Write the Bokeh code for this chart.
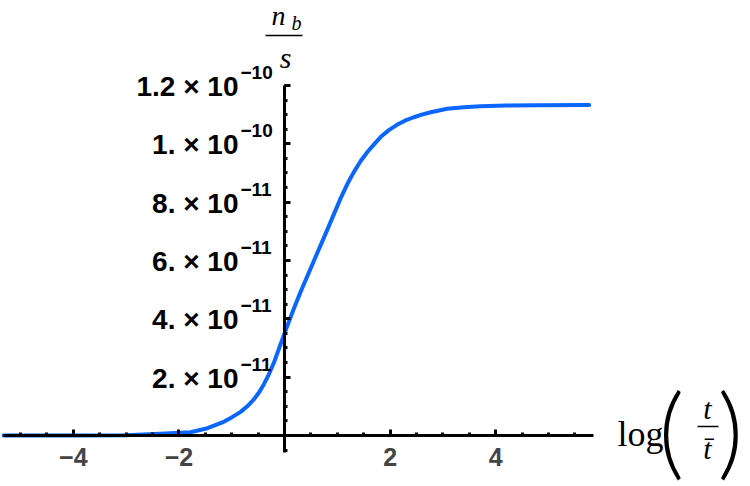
from bokeh.plotting import figure
from bokeh.models import Range1d, SingleIntervalTicker, CustomJSTickFormatter
from bokeh.core.properties import value
from bokeh.embed import file_html
from bokeh.resources import INLINE

# ---- data ----
log_t = [-5.32, -4.0, -3.0, -2.35, -1.78, -1.46, -1.15, -1.0, -0.83, -0.7,
         -0.58, -0.48, -0.39, -0.30, -0.20, -0.10, 0.0, 0.10, 0.18, 0.30,
         0.555, 0.81, 1.06, 1.19, 1.31, 1.44, 1.57, 1.70, 1.82, 1.97,
         2.13, 2.29, 2.45, 2.60, 2.77, 3.08, 3.40, 3.71, 4.2, 4.8, 5.77]
nb_s_e11 = [0.0, 0.0, 0.01, 0.06, 0.11, 0.25, 0.47, 0.62, 0.81, 1.01,
            1.24, 1.48, 1.76, 2.08, 2.50, 3.00, 3.50, 3.98, 4.36, 4.90,
            5.98, 7.05, 8.12, 8.62, 9.02, 9.40, 9.72, 9.99, 10.23, 10.46,
            10.65, 10.80, 10.91, 11.00, 11.08, 11.20, 11.25, 11.29, 11.31, 11.32, 11.33]
nb_s = [v * 1e-11 for v in nb_s_e11]

y_tick_vals = [2e-11, 4e-11, 6e-11, 8e-11, 1e-10, 1.2e-10]
y_tick_mant = ["2.", "4.", "6.", "8.", "1.", "1.2"]
y_tick_exp = ["\u221211", "\u221211", "\u221211", "\u221211", "\u221210", "\u221210"]

# ---- geometry (pixel mapping of the reference) ----
W, H = 750, 486
X0_PX, PX_PER_X = 284.0, 52.8
Y0_PX, PX_PER_Y = 435.0, 29.17e11

def X(px):
    return (px - X0_PX) / PX_PER_X

def Y(py):
    return (Y0_PX - py) / PX_PER_Y

p = figure(width=W, height=H,
           x_range=Range1d(X(0), X(W)), y_range=Range1d(Y(H), Y(0)),
           output_backend="svg", toolbar_location=None, min_border=0)
p.outline_line_color = None
p.grid.visible = False
p.background_fill_color = "white"
p.border_fill_color = "white"

curve_color = "#0a66ff"
p.line(log_t, nb_s, line_color=curve_color, line_width=4, line_join="round", line_cap="round")

# axes crossing at the origin
xa = p.xaxis[0]
ya = p.yaxis[0]
xa.fixed_location = 0
ya.fixed_location = 0
xa.bounds = (-5.33, 5.86)
ya.bounds = (-5.8e-12, 1.2e-10)
xa.ticker = SingleIntervalTicker(interval=2, num_minor_ticks=4)
ya.ticker = SingleIntervalTicker(interval=2e-11, num_minor_ticks=4)
for ax in (xa, ya):
    ax.axis_line_width = 3
    ax.axis_line_color = "black"
    ax.major_tick_in = 6
    ax.major_tick_out = 0
    ax.minor_tick_in = 3
    ax.minor_tick_out = 0
    ax.major_tick_line_width = 3
    ax.minor_tick_line_width = 3
    ax.major_tick_line_color = "black"
    ax.minor_tick_line_color = "black"
xa.formatter = CustomJSTickFormatter(code="""
    if (Math.abs(tick) < 1e-9) return '';
    return tick < 0 ? '\\u2212' + Math.abs(tick) : String(tick);
""")
xa.major_label_text_font = "Liberation Sans"
xa.major_label_text_font_style = "bold"
xa.major_label_text_font_size = "25px"
xa.major_label_standoff = 12
ya.formatter = CustomJSTickFormatter(code="return '';")

# y tick labels with superscript exponents
base_txt = [m + " \u00d7 10" for m in y_tick_mant]
p.text(x=0, y=y_tick_vals, text=base_txt, x_offset=-46, y_offset=1,
       text_align="right", text_baseline="middle",
       text_font=value("Liberation Sans"), text_font_style="bold",
       text_font_size="28px", text_color="black")
p.text(x=0, y=y_tick_vals, text=y_tick_exp, x_offset=-44, y_offset=-13,
       text_align="left", text_baseline="middle",
       text_font=value("Liberation Sans"), text_font_style="bold",
       text_font_size="19px", text_color="black")

serif = value("Liberation Serif")

# y-axis label  n_b / s
p.text(x=[X(278)], y=[Y(15)], text=["n"], text_align="center", text_baseline="middle",
       text_font=serif, text_font_style="italic", text_font_size="28px", text_color="black")
p.text(x=[X(291)], y=[Y(22)], text=["b"], text_align="left", text_baseline="middle",
       text_font=serif, text_font_style="italic", text_font_size="20px", text_color="black")
p.line([X(265), X(302)], [Y(35), Y(35)], line_color="black", line_width=1.5)
p.text(x=[X(285)], y=[Y(57)], text=["s"], text_align="center", text_baseline="middle",
       text_font=serif, text_font_style="italic", text_font_size="30px", text_color="black")

# x-axis label  log( t / t-bar )
p.text(x=[X(617)], y=[Y(433)], text=["log"], text_align="left", text_baseline="middle",
       text_font=serif, text_font_size="36px", text_color="black")
p.text(x=[X(671)], y=[Y(427)], text=["("], text_align="center", text_baseline="middle",
       text_font=value("Lato Light"), text_font_size="100px", text_color="black")
p.text(x=[X(730)], y=[Y(427)], text=[")"], text_align="center", text_baseline="middle",
       text_font=value("Lato Light"), text_font_size="100px", text_color="black")
p.text(x=[X(707)], y=[Y(408)], text=["t"], text_align="center", text_baseline="middle",
       text_font=serif, text_font_style="italic", text_font_size="30px", text_color="black")
p.line([X(697), X(718)], [Y(426), Y(426)], line_color="black", line_width=1.5)
p.text(x=[X(707)], y=[Y(448)], text=["t\u0304"], text_align="center", text_baseline="middle",
       text_font=serif, text_font_style="italic", text_font_size="30px", text_color="black")

open("out.html", "w").write(file_html(p, INLINE))
